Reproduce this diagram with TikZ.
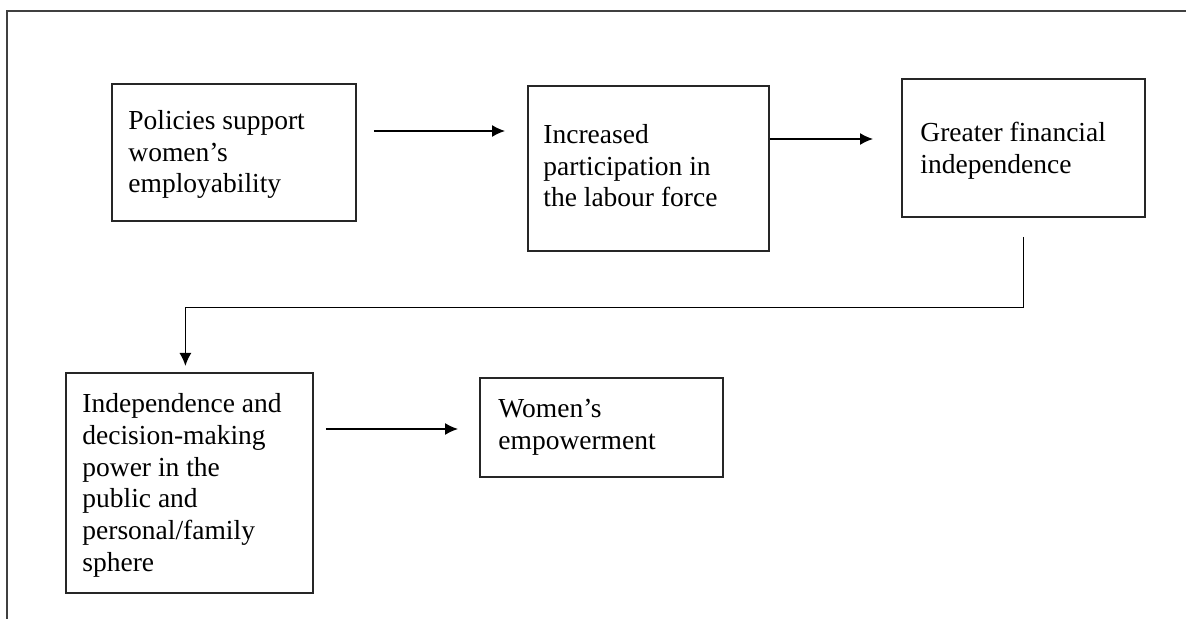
\documentclass[tikz,border=0pt]{standalone}
\usepackage{fontspec}
\setmainfont{Liberation Serif}
\usetikzlibrary{arrows.meta,calc}
\begin{document}
\begin{tikzpicture}[x=0.5pt,y=-0.5pt,
  box/.style={draw=black!85, line width=0.9pt, anchor=north west, inner sep=0pt},
  txt/.style={anchor=north west, inner sep=0pt, align=left, text=black,
    font=\fontsize{13.75}{15.9}\selectfont},
  arr/.style={draw=black, line width=0.7pt, -{Latex[length=6.5pt,width=6pt]}},
  frame/.style={draw=black!75, line width=1pt}]
\useasboundingbox (0,0) rectangle (1186,619);
% outer frame
\draw[frame] (1186,11) -- (7,11) -- (7,619);
% boxes
\node[box, minimum width=122pt,   minimum height=68.5pt] (b1) at (111,83) {};
\node[box, minimum width=120.5pt, minimum height=82.5pt] (b2) at (527,85) {};
\node[box, minimum width=121.5pt, minimum height=69pt]   (b3) at (901,78) {};
\node[box, minimum width=123.5pt, minimum height=110pt]  (b4) at (65,372) {};
\node[box, minimum width=121.5pt, minimum height=49.5pt] (b5) at (479,377) {};
% texts
\node[txt] (t1) at (128,109) {\rule{0pt}{10pt}Policies support\\women’s\\employability};
\node[txt] (t2) at (543,123) {\rule{0pt}{10pt}Increased\\participation in\\the labour force};
\node[txt] (t3) at (920,121) {\rule{0pt}{10pt}Greater financial\\independence};
\node[txt] (t4) at (82,392) {\rule{0pt}{10pt}Independence and\\decision-making\\power in the\\public and\\personal/family\\sphere};
\node[txt] (t5) at (498,397) {\rule{0pt}{10pt}Women’s\\empowerment};
% connectors
\coordinate (s3) at ($(b3.south)+(0,19)$);
\coordinate (e4) at ($(b4.north)+(-4,-6)$);
\draw[arr] ($(b1.north east)+(17,48)$) -- ($(b2.north west)+(-22,46)$);
\draw[arr] ($(b2.north east)+(0,54)$) -- ($(b3.north west)+(-28,61)$);
\draw[arr] (s3) -- ++(0,71) -| (e4);
\draw[arr] ($(b4.north east)+(12,57)$) -- ($(b5.north west)+(-21,52)$);
\end{tikzpicture}
\end{document}
